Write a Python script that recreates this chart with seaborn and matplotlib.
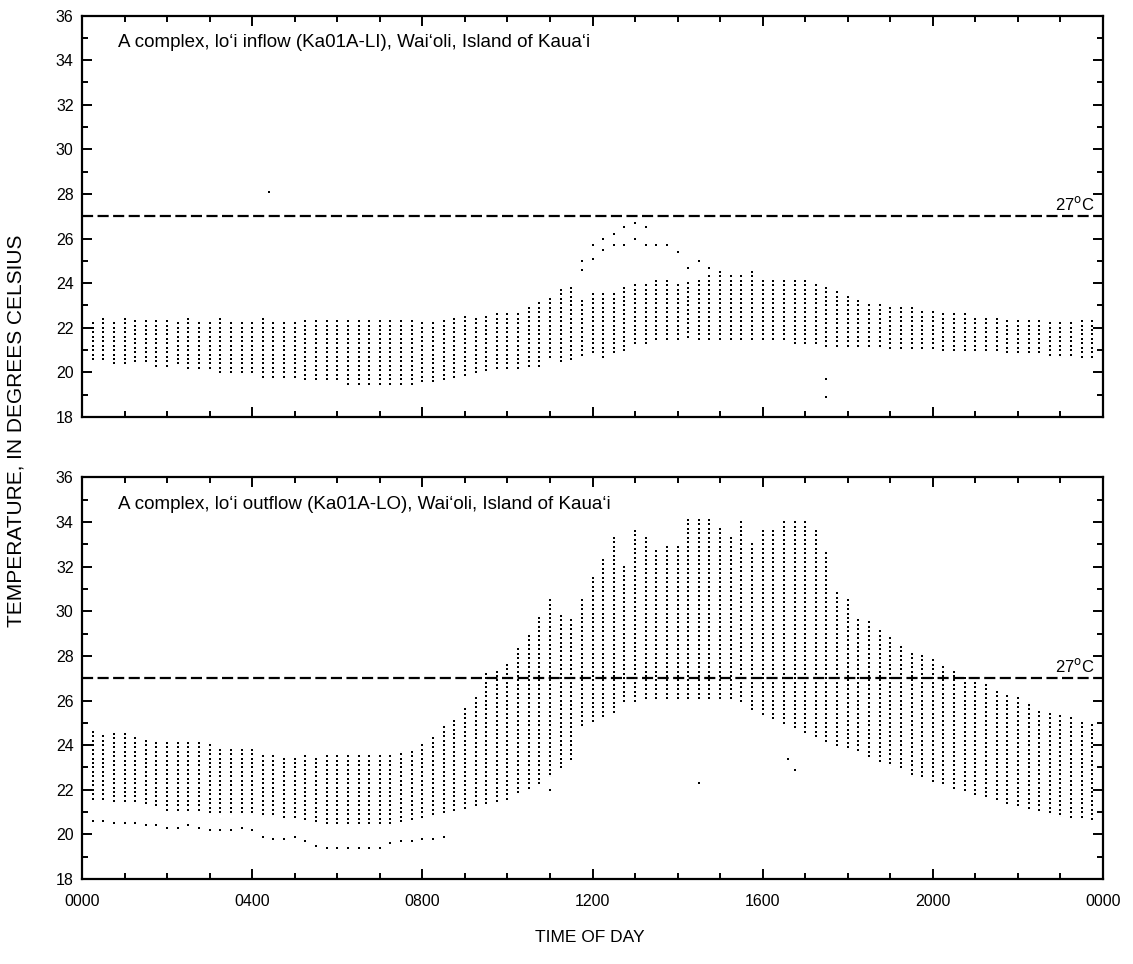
import numpy as np
import pandas as pd
import matplotlib
matplotlib.use("Agg")
import matplotlib.pyplot as plt
import seaborn as sns
from matplotlib.ticker import MultipleLocator

# reading times, hours after midnight (15-minute interval, 00:15 .. 23:45)
times = [0.25 * k for k in range(1, 96)]

# --- inflow (top panel): lower / upper edge of the daily readings at each time
inflow_lo = [20.6, 20.6, 20.4, 20.4, 20.5, 20.5, 20.3, 20.3, 20.4, 20.2, 20.2, 20.2,
             20.0, 20.0, 20.0, 20.0, 19.8, 19.8, 19.8, 19.8, 19.7, 19.7, 19.7, 19.7,
             19.5, 19.5, 19.5, 19.5, 19.5, 19.5, 19.5, 19.6, 19.6, 19.7, 19.8, 19.9,
             20.0, 20.1, 20.2, 20.2, 20.2, 20.3, 20.3, 20.7, 20.5, 20.6, 20.8, 20.9,
             20.7, 20.9, 21.0, 21.3, 21.3, 21.5, 21.5, 21.5, 21.6, 21.5, 21.5, 21.5,
             21.5, 21.5, 21.5, 21.5, 21.5, 21.5, 21.3, 21.3, 21.3, 21.2, 21.2, 21.2,
             21.2, 21.2, 21.2, 21.1, 21.1, 21.1, 21.1, 21.1, 21.0, 21.0, 21.0, 21.0,
             21.0, 21.0, 20.9, 20.9, 20.9, 20.9, 20.8, 20.8, 20.8, 20.7, 20.7]
inflow_hi = [22.3, 22.4, 22.3, 22.4, 22.3, 22.3, 22.4, 22.3, 22.3, 22.4, 22.3, 22.3,
             22.4, 22.3, 22.3, 22.3, 22.4, 22.3, 22.3, 22.3, 22.4, 22.3, 22.3, 22.3,
             22.3, 22.4, 22.3, 22.3, 22.3, 22.3, 22.3, 22.3, 22.3, 22.4, 22.4, 22.5,
             22.5, 22.6, 22.6, 22.6, 22.7, 22.9, 23.1, 23.4, 23.8, 23.9, 23.2, 23.6,
             23.6, 23.6, 23.9, 23.9, 24.0, 24.2, 24.1, 23.9, 24.1, 24.2, 24.3, 24.5,
             24.3, 24.3, 24.5, 24.2, 24.2, 24.2, 24.2, 24.1, 24.0, 23.9, 23.7, 23.4,
             23.2, 23.1, 23.0, 23.0, 22.9, 22.9, 22.8, 22.8, 22.7, 22.6, 22.6, 22.5,
             22.5, 22.4, 22.4, 22.4, 22.4, 22.3, 22.3, 22.3, 22.3, 22.3, 22.3]
# isolated warmer readings (one warm day) and stray points
inflow_extra_t = [11.75, 11.75, 12.0, 12.0, 12.25, 12.25, 12.5, 12.5, 12.75, 12.75,
                  13.0, 13.0, 13.25, 13.25, 13.5, 13.75, 14.0, 14.25, 14.5, 14.75,
                  4.4, 17.5, 17.5]
inflow_extra_v = [25.0, 24.6, 25.7, 25.1, 26.0, 25.5, 26.2, 25.7, 26.5, 25.7,
                  26.7, 26.0, 26.5, 25.7, 25.7, 25.7, 25.4, 24.7, 25.0, 24.7,
                  28.1, 19.7, 18.9]

# --- outflow (bottom panel)
outflow_lo = [21.6, 21.6, 21.5, 21.5, 21.5, 21.4, 21.3, 21.1, 21.1, 21.1, 21.1, 21.0,
              21.0, 21.0, 21.0, 21.0, 20.9, 20.9, 20.8, 20.8, 20.7, 20.6, 20.5, 20.5,
              20.5, 20.5, 20.5, 20.5, 20.5, 20.6, 20.7, 20.8, 20.9, 21.0, 21.1, 21.2,
              21.3, 21.4, 21.5, 21.6, 21.9, 22.1, 22.3, 22.7, 23.0, 23.4, 24.9, 25.1,
              25.3, 25.5, 26.0, 26.0, 26.1, 26.1, 26.1, 26.1, 26.1, 26.1, 26.1, 26.1,
              26.1, 26.0, 25.6, 25.4, 25.2, 25.0, 24.8, 24.6, 24.4, 24.2, 24.0, 23.9,
              23.8, 23.5, 23.3, 23.2, 23.0, 22.7, 22.6, 22.4, 22.3, 22.1, 22.0, 21.8,
              21.7, 21.6, 21.4, 21.3, 21.2, 21.1, 21.0, 20.9, 20.8, 20.8, 20.7]
outflow_hi = [24.7, 24.5, 24.5, 24.5, 24.4, 24.3, 24.2, 24.2, 24.2, 24.1, 24.1, 24.0,
              23.8, 23.8, 23.8, 23.8, 23.6, 23.6, 23.5, 23.5, 23.5, 23.5, 23.5, 23.5,
              23.5, 23.5, 23.5, 23.6, 23.6, 23.7, 23.8, 24.1, 24.4, 24.8, 25.2, 25.6,
              26.2, 27.3, 27.3, 27.7, 28.4, 28.9, 29.8, 30.6, 29.8, 29.7, 30.6, 31.5,
              32.3, 33.3, 32.0, 33.7, 33.3, 32.8, 32.9, 32.9, 34.1, 34.1, 34.1, 33.7,
              33.3, 34.1, 33.1, 33.7, 33.7, 34.0, 34.1, 34.1, 33.7, 32.7, 30.8, 30.5,
              29.7, 29.5, 29.1, 28.8, 28.4, 28.2, 28.0, 27.8, 27.5, 27.3, 27.0, 26.8,
              26.8, 26.4, 26.2, 26.1, 25.9, 25.6, 25.5, 25.4, 25.2, 25.0, 24.9]
# coolest day, sparse readings below the main band (early morning), plus strays
outflow_cool_t = [0.25, 0.5, 0.75, 1.0, 1.25, 1.5, 1.75, 2.0, 2.25, 2.5, 2.75, 3.0,
                  3.25, 3.5, 3.75, 4.0, 4.25, 4.5, 4.75, 5.0, 5.25, 5.5, 5.75, 6.0,
                  6.25, 6.5, 6.75, 7.0, 7.25, 7.5, 7.75, 8.0, 8.25, 8.5,
                  14.5, 16.6, 16.75, 11.0]
outflow_cool_v = [20.6, 20.6, 20.5, 20.5, 20.5, 20.4, 20.4, 20.3, 20.3, 20.4, 20.3, 20.2,
                  20.2, 20.2, 20.3, 20.2, 19.9, 19.8, 19.8, 19.9, 19.7, 19.5, 19.4, 19.4,
                  19.4, 19.4, 19.4, 19.4, 19.6, 19.7, 19.7, 19.8, 19.8, 19.9,
                  22.3, 23.4, 22.9, 22.0]

resolution = 0.2  # spacing of logged temperature values


def readings(lo, hi, extra_t, extra_v):
    rows = []
    for t, a, b in zip(times, lo, hi):
        for v in np.arange(a, b + 0.01, resolution):
            rows.append((t, v))
    rows += list(zip(extra_t, extra_v))
    return pd.DataFrame(rows, columns=["time", "temp"])


df_in = readings(inflow_lo, inflow_hi, inflow_extra_t, inflow_extra_v)
df_out = readings(outflow_lo, outflow_hi, outflow_cool_t, outflow_cool_v)

sns.set_style("ticks")
plt.rcParams['font.family'] = ['Liberation Sans', 'DejaVu Sans']
for key in ["text.color", "axes.labelcolor", "xtick.color", "ytick.color", "axes.edgecolor"]:
    plt.rcParams[key] = "black"

fig = plt.figure(figsize=(11.33, 9.64), dpi=100)
ax1 = fig.add_axes([0.0724, 0.5674, 0.9011, 0.4165])
ax2 = fig.add_axes([0.0724, 0.0882, 0.9011, 0.4165])

panels = [(ax1, df_in, "A complex, lo\u2018i inflow (Ka01A-LI), Wai\u2018oli, Island of Kaua\u2018i"),
          (ax2, df_out, "A complex, lo\u2018i outflow (Ka01A-LO), Wai\u2018oli, Island of Kaua\u2018i")]

for ax, df, title in panels:
    sns.scatterplot(data=df, x="time", y="temp", ax=ax, color="black", s=3.2,
                    marker="s", linewidth=0, legend=False)
    ax.axhline(27, color="black", lw=1.6, dashes=(5, 2))
    ax.text(0.992, 27.15, "27$^{\\rm o}$C", transform=ax.get_yaxis_transform(),
            ha="right", va="bottom", fontsize=12)
    ax.text(0.035, 0.955, title, transform=ax.transAxes, ha="left", va="top",
            fontsize=13.5)
    ax.set_xlim(0, 24)
    ax.set_ylim(18, 36)
    ax.xaxis.set_major_locator(MultipleLocator(4))
    ax.xaxis.set_minor_locator(MultipleLocator(1))
    ax.yaxis.set_major_locator(MultipleLocator(2))
    ax.yaxis.set_minor_locator(MultipleLocator(1))
    ax.tick_params(which="both", direction="in", top=True, right=True, width=1.4)
    ax.tick_params(which="major", length=7)
    ax.tick_params(which="minor", length=4)
    ax.tick_params(axis="y", labelsize=11.5, pad=6)
    ax.tick_params(axis="x", labelsize=11.5, pad=11)
    for sp in ax.spines.values():
        sp.set_linewidth(1.6)
        sp.set_visible(True)
    ax.set_xlabel("")
    ax.set_ylabel("")

ax1.set_xticklabels([])
ax2.set_xticks([0, 4, 8, 12, 16, 20, 24])
ax2.set_xticklabels(["0000", "0400", "0800", "1200", "1600", "2000", "0000"])

fig.text(0.521, 0.02, "TIME OF DAY", ha="center", va="bottom", fontsize=12.5)
fig.text(0.014, 0.553, "TEMPERATURE, IN DEGREES CELSIUS", rotation=90,
         ha="center", va="center", fontsize=15)

fig.savefig("out.png", dpi=100)
